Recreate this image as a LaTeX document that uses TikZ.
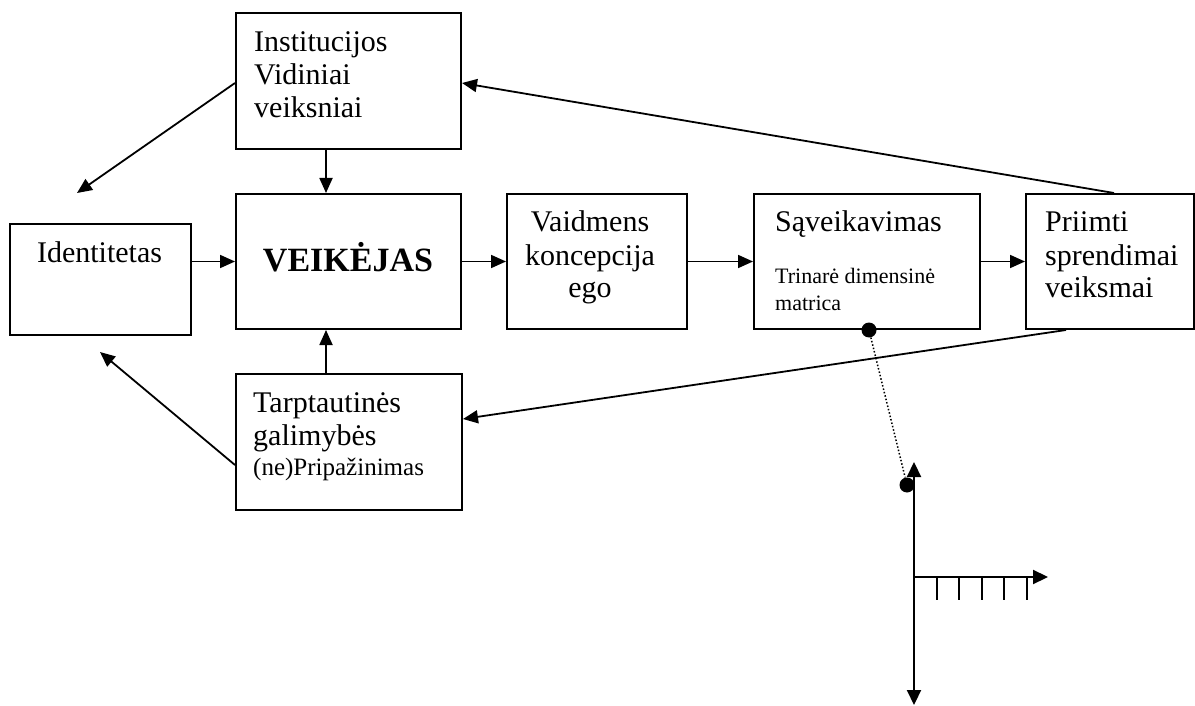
\documentclass[tikz,border=0pt]{standalone}
\usepackage{fontspec}
\setmainfont{Liberation Serif}
\usetikzlibrary{arrows.meta}

\begin{document}
\begin{tikzpicture}[x=1pt,y=-1pt,
  box/.style={draw, line width=2pt, inner sep=0pt, anchor=north west},
  link/.style={line width=1.8pt, -{Triangle[length=15pt,width=13pt]}},
  axis/.style={line width=2.2pt, -{Triangle[length=15pt,width=14pt]}},
  tick/.style={line width=2pt},
  dot/.style={circle, fill=black, inner sep=0pt, minimum size=15pt},
  lbl/.style={inner sep=0pt, anchor=base west},
  clbl/.style={inner sep=0pt, anchor=base},
  norm/.style={font=\fontsize{30}{33}\selectfont},
  small/.style={font=\fontsize{22}{28}\selectfont},
  mid/.style={font=\fontsize{25}{30}\selectfont},
  head/.style={font=\fontsize{34}{38}\selectfont\bfseries}]
\useasboundingbox (0,0) rectangle (1195,706);

% boxes
\node[box, minimum width=225pt, minimum height=136pt] (inst)  at (235,12)  {};
\node[box, minimum width=181pt, minimum height=111pt] (ident) at (9,223)   {};
\node[box, minimum width=225pt, minimum height=135pt] (actor) at (235,193) {};
\node[box, minimum width=180pt, minimum height=135pt] (role)  at (506,193) {};
\node[box, minimum width=226pt, minimum height=135pt] (inter) at (753,193) {};
\node[box, minimum width=168pt, minimum height=135pt] (dec)   at (1025,193) {};
\node[box, minimum width=226pt, minimum height=136pt] (intl)  at (235,373) {};

% labels
\node[lbl, norm] (tInst) at (254,52)
  {\begin{tabular}[t]{@{}l@{}}Institucijos\\Vidiniai\\veiksniai\end{tabular}};
\node[clbl, norm] (tIdent) at (99.5,262) {Identitetas};
\node[clbl, head] (tActor) at (348,271) {VEIKĖJAS};
\node[clbl, norm] (tRole) at (590,232)
  {\begin{tabular}[t]{@{}c@{}}Vaidmens\\koncepcija\\ego\end{tabular}};
\node[lbl, norm] (tInter) at (775,232) {Sąveikavimas};
\node[lbl, small] (tMatrix) at (775,283)
  {\begin{tabular}[t]{@{}l@{}}Trinarė dimensinė\\matrica\end{tabular}};
\node[lbl, norm] (tDec) at (1045,232)
  {\begin{tabular}[t]{@{}l@{}}Priimti\\sprendimai\\veiksmai\end{tabular}};
\node[lbl, norm] (tIntl) at (253,412)
  {\begin{tabular}[t]{@{}l@{}}Tarptautinės\\galimybės\end{tabular}};
\node[lbl, mid] (tRecog) at (253,475) {(ne)Pripažinimas};

% free ends of the side arrows
\coordinate (idTop) at (77,193);
\coordinate (idBot) at (100,352);

% main chain
\draw[link] ([xshift=-22.5pt]inst.south) -- ([xshift=-22.5pt]actor.north);
\draw[link] (ident.east |- actor.west) -- (actor.west);
\draw[link] (actor.east) -- (role.west);
\draw[link] (role.east) -- (inter.west);
\draw[link] (inter.east) -- (dec.west);
\draw[link] ([xshift=-23pt]intl.north) -- ([xshift=-22.5pt]actor.south);

% feedback and side arrows
\draw[link] ([yshift=-2pt]inst.west) -- (idTop);
\draw[link] ([yshift=-23pt]intl.west) -- (idBot);
\draw[link] ([xshift=4pt]dec.north) -- ([yshift=-2pt]inst.east);
\draw[link] ([xshift=-44pt]dec.south) -- ([yshift=23pt]intl.east);

% matrix pointer
\node[dot] (d1) at ([xshift=2pt]inter.south) {};
\node[dot] (d2) at (907,485) {};
\draw[dotted, line width=1.5pt] (d1) -- (d2);

% axes
\coordinate (o) at (914,577);
\coordinate (yTop) at (914,462);
\coordinate (yBot) at (914,705);
\coordinate (xEnd) at (1048,577);
\draw[axis] (o) -- (yTop);
\draw[axis] (o) -- (yBot);
\draw[axis] (o) -- (xEnd);
\foreach \t in {937,959,982,1004,1027}
  \draw[tick] (\t,577) -- (\t,600);
\end{tikzpicture}
\end{document}
